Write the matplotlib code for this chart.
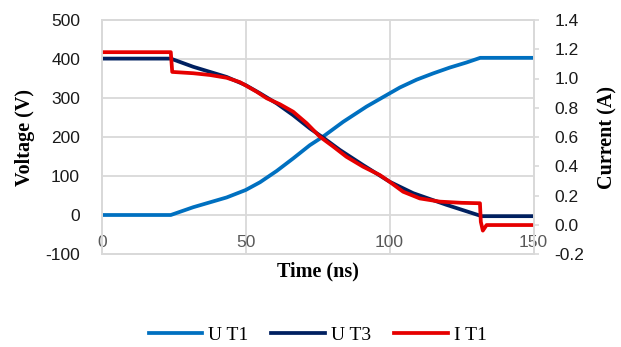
import matplotlib
matplotlib.use("Agg")
import matplotlib.pyplot as plt

# ---- data ----
t_ut1 = [0, 24, 31.8, 43.4, 50, 55, 60.8, 66.5, 72.3, 76.9, 83.9, 92, 99.8, 103.6, 109.4, 115.1,
         120.9, 126.7, 131.5, 150]
v_ut1 = [0, 0, 20, 45, 64, 84, 113, 145, 179, 201, 239, 278, 311, 327, 347, 363, 378, 391, 403, 403]

t_ut3 = [0, 24, 31.8, 43.4, 50, 55, 60.8, 66.5, 72.3, 77, 82.7, 90.8, 100.1, 108.2, 119.8, 132, 150]
v_ut3 = [401, 401, 380, 354, 333, 312, 286, 256, 222, 198, 167, 128, 85, 56, 26, -3, -3]

t_it1 = [0, 24, 24.5, 31.8, 37.6, 43.4, 48, 53.8, 57.3, 61.9, 66.5, 71.2, 75.8, 80.4, 85, 90.8, 96.6,
         100, 104.7, 110.5, 117.5, 125, 131.4, 131.7, 132.4, 133.7, 150]
i_it1 = [1.18, 1.18, 1.045, 1.036, 1.024, 1.005, 0.975, 0.91, 0.865, 0.824, 0.773, 0.694, 0.602,
         0.535, 0.465, 0.397, 0.34, 0.294, 0.226, 0.18, 0.158, 0.15, 0.147, 0.02, -0.04, -0.002, -0.002]

x_ticks = [0, 50, 100, 150]
v_ticks = [-100, 0, 100, 200, 300, 400, 500]
i_ticks = [-0.2, 0.0, 0.2, 0.4, 0.6, 0.8, 1.0, 1.2, 1.4]

series_labels = ["U T1", "U T3", "I T1"]
colors = ["#0070C0", "#002060", "#E60000"]

W, H = 621, 347
fig = plt.figure(figsize=(W / 100, H / 100), dpi=100)
ax = fig.add_axes([101.7 / W, 1 - 254 / H, (533.5 - 101.7) / W, (254 - 20) / H])
ax2 = ax.twinx()

grid_c = "#D9D9D9"
tick_font = "Liberation Sans"
serif = "Liberation Serif"

lw = 2.7
l1, = ax.plot(t_ut1, v_ut1, color=colors[0], lw=lw, label=series_labels[0], solid_joinstyle="round")
l2, = ax.plot(t_ut3, v_ut3, color=colors[1], lw=lw, label=series_labels[1], solid_joinstyle="round")
l3, = ax2.plot(t_it1, i_it1, color=colors[2], lw=lw, label=series_labels[2], solid_joinstyle="round")

ax.set_xlim(0, 150)
ax.set_ylim(-100, 500)
ax2.set_ylim(-0.2, 1.4)
ax.set_xticks(x_ticks)
ax.set_xticklabels([str(v) for v in x_ticks], fontfamily=tick_font, fontsize=12.5, color="#595959")
ax.set_yticks(v_ticks)
ax.set_yticklabels([str(v) for v in v_ticks], fontfamily=tick_font, fontsize=12.5, color="#1a1a1a")
ax2.set_yticks(i_ticks)
ax2.set_yticklabels([f"{v:.1f}" for v in i_ticks], fontfamily=tick_font, fontsize=12.5, color="#1a1a1a")

ax.grid(True, color=grid_c, lw=1.3)
ax.set_axisbelow(True)
ax.tick_params(axis="x", length=0, pad=-13.5)
ax.tick_params(axis="y", length=0, pad=15.6)
ax2.tick_params(axis="y", length=3.6, width=1.2, color=grid_c, pad=11.3)
for a in (ax, ax2):
    for s in a.spines.values():
        s.set_color(grid_c)
        s.set_linewidth(1.3)

fig.text(25 / W, 1 - 137 / H, "Voltage (V)", rotation=90, ha="center", va="center",
         fontfamily=serif, fontweight="bold", fontsize=14.5)
fig.text(607 / W, 1 - 137 / H, "Current (A)", rotation=90, ha="center", va="center",
         fontfamily=serif, fontweight="bold", fontsize=14.5)
fig.text(318 / W, 1 - 271 / H, "Time (ns)", ha="center", va="center",
         fontfamily=serif, fontweight="bold", fontsize=14.5)

fig.legend(handles=[l1, l2, l3], loc="center", bbox_to_anchor=(317.5 / W, 1 - 335 / H), ncol=3,
           frameon=False, prop={"family": serif, "size": 14}, handlelength=2.75,
           handletextpad=0.3, columnspacing=1.2, borderpad=0)

fig.savefig("out.png", dpi=100)
